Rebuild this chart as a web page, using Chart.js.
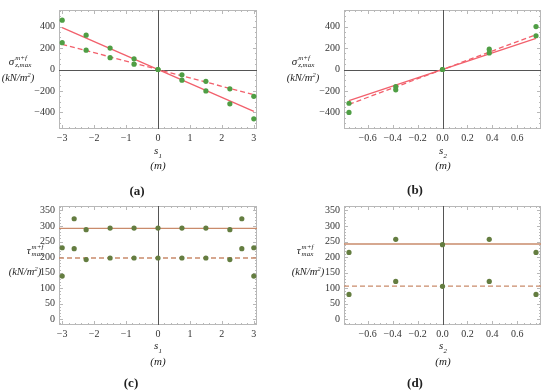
<!DOCTYPE html>
<html>
<head>
<meta charset="utf-8">
<script src="https://cdn.jsdelivr.net/npm/chart.js@4.4.1/dist/chart.umd.min.js"></script>
<style>
  body { margin: 0; background: #fff; }
  #wrap { position: relative; width: 550px; height: 392px; overflow: hidden; font-family: "Liberation Serif", "DejaVu Serif", serif; color: #222; }
  canvas { position: absolute; }
  .lbl { position: absolute; transform: translate(-50%, -50%); white-space: nowrap; font-style: italic; font-size: 11px; }
  .lbl.u { font-size: 10.5px; }
  .cap { position: absolute; transform: translate(-50%, -50%); font-weight: bold; font-size: 13px; }
  .stack { display: inline-block; vertical-align: middle; font-size: 7px; line-height: 7px; text-align: left; margin-left: 1px; }
  .stack span { display: block; }
  sup.sq { font-size: 7px; }
</style>
</head>
<body>
<div id="wrap">
  <canvas id="pa" style="left:0;top:0" width="275" height="145"></canvas>
  <canvas id="pb" style="left:280px;top:0" width="270" height="145"></canvas>
  <canvas id="pc" style="left:0;top:196px" width="275" height="145"></canvas>
  <canvas id="pd" style="left:280px;top:196px" width="270" height="145"></canvas>

  <div class="lbl" style="left:20px;top:62px"><span>σ</span><span class="stack"><span>m+f</span><span>z,max</span></span></div>
  <div class="lbl u" style="left:18px;top:77px">(kN/m<sup class="sq">2</sup>)</div>
  <div class="lbl" style="left:158px;top:152px">s<sub style="font-size:7px">1</sub></div>
  <div class="lbl" style="left:158px;top:165px">(m)</div>
  <div class="cap" style="left:137px;top:191px">(a)</div>

  <div class="lbl" style="left:303px;top:62px"><span>σ</span><span class="stack"><span>m+f</span><span>z,max</span></span></div>
  <div class="lbl u" style="left:303px;top:77px">(kN/m<sup class="sq">2</sup>)</div>
  <div class="lbl" style="left:443px;top:152px">s<sub style="font-size:7px">2</sub></div>
  <div class="lbl" style="left:443px;top:165px">(m)</div>
  <div class="cap" style="left:415px;top:190px">(b)</div>

  <div class="lbl" style="left:35px;top:251px"><span>τ</span><span class="stack"><span>m+f</span><span>max</span></span></div>
  <div class="lbl u" style="left:25px;top:271px">(kN/m<sup class="sq">2</sup>)</div>
  <div class="lbl" style="left:158px;top:347px">s<sub style="font-size:7px">1</sub></div>
  <div class="lbl" style="left:158px;top:361px">(m)</div>
  <div class="cap" style="left:131px;top:383px">(c)</div>

  <div class="lbl" style="left:305px;top:251px"><span>τ</span><span class="stack"><span>m+f</span><span>max</span></span></div>
  <div class="lbl u" style="left:308px;top:271px">(kN/m<sup class="sq">2</sup>)</div>
  <div class="lbl" style="left:443px;top:347px">s<sub style="font-size:7px">2</sub></div>
  <div class="lbl" style="left:443px;top:361px">(m)</div>
  <div class="cap" style="left:415px;top:383px">(d)</div>
</div>
<script>
// data
// (a) normal stress vs s1
const s1 = [-3, -2.25, -1.5, -0.75, 0, 0.75, 1.5, 2.25, 3];
const sigmaA_pts1 = [460, 320, 200, 100, 0, -100, -200, -320, -460];
const sigmaA_pts2 = [250, 180, 110, 50, 0, -50, -110, -180, -250];
const lineA_x = [-3, 3];
const sigmaA_solid = [390, -390];
const sigmaA_dashed = [235, -235];

// (b) normal stress vs s2
const s2 = [-0.75, -0.375, 0, 0.375, 0.75];
const sigmaB_pts1 = [-400, -190, 0, 190, 400];
const sigmaB_pts2 = [-315, -160, 0, 155, 315];
const lineB_x = [-0.75, 0.75];
const sigmaB_solid = [-290, 290];
const sigmaB_dashed = [-325, 325];

// (c) shear stress vs s1
const s1c = [-3, -2.625, -2.25, -1.5, -0.75, 0, 0.75, 1.5, 2.25, 2.625, 3];
const tauC_pts1 = [230, 323, 288, 293, 293, 293, 293, 293, 288, 323, 230];
const tauC_pts2 = [139, 227, 192, 197, 197, 197, 197, 197, 192, 227, 139];
const lineC_x = [-3.1, 3.1];
const tauC_solid = [292, 292];
const tauC_dashed = [197, 197];

// (d) shear stress vs s2
const tauD_pts1 = [215, 257, 240, 257, 215];
const tauD_pts2 = [80, 122, 106, 122, 80];
const lineD_x = [-0.79, 0.79];
const tauD_solid = [242, 242];
const tauD_dashed = [107, 107];

// ticks
const xTicksS1 = [-3, -2, -1, 0, 1, 2, 3];
const xTicksS2 = [-0.6, -0.4, -0.2, 0, 0.2, 0.4, 0.6];
const yTicksSigma = [-400, -200, 0, 200, 400];
const yTicksTau = [0, 50, 100, 150, 200, 250, 300, 350];

const red = "#f2606c";
const green = "#4f9e44";
const brown = "#c98b6b";
const olive = "#647d40";

function pts(xs, ys) {
  return xs.map((x, i) => ({ x: x, y: ys[i] }));
}

function minus(s) {
  return String(s).replace("-", "\u2212");
}

// frame, minor ticks and zero axes, drawn from the chart's scales
const framePlugin = {
  id: "frame",
  beforeDatasetsDraw(chart, args, o) {
    const c = chart.ctx, a = chart.chartArea;
    const xs = chart.scales.x, ys = chart.scales.y;
    c.save();
    c.strokeStyle = "#b8b8b8";
    c.lineWidth = 1;
    c.strokeRect(a.left + 0.5, a.top + 0.5, a.right - a.left - 1, a.bottom - a.top - 1);
    c.beginPath();
    const tick = (v, len, axis) => {
      if (axis === "x") {
        const p = Math.round(xs.getPixelForValue(v)) + 0.5;
        if (p < a.left || p > a.right) return;
        c.moveTo(p, a.bottom); c.lineTo(p, a.bottom - len);
        c.moveTo(p, a.top); c.lineTo(p, a.top + len);
      } else {
        const p = Math.round(ys.getPixelForValue(v)) + 0.5;
        if (p < a.top || p > a.bottom) return;
        c.moveTo(a.left, p); c.lineTo(a.left + len, p);
        c.moveTo(a.right, p); c.lineTo(a.right - len, p);
      }
    };
    for (let v = o.xMinorStart; v <= xs.max + 1e-9; v += o.xMinor) tick(v, 2, "x");
    for (let v = o.yMinorStart; v <= ys.max + 1e-9; v += o.yMinor) tick(v, 2, "y");
    o.xMajor.forEach(v => tick(v, 4, "x"));
    o.yMajor.forEach(v => tick(v, 4, "y"));
    c.stroke();
    // axes through the origin
    c.strokeStyle = "#555";
    c.beginPath();
    const x0 = Math.round(xs.getPixelForValue(0)) + 0.5;
    c.moveTo(x0, a.top); c.lineTo(x0, a.bottom);
    if (o.hAxis) {
      const y0 = Math.round(ys.getPixelForValue(0)) + 0.5;
      c.moveTo(a.left, y0); c.lineTo(a.right, y0);
    }
    c.stroke();
    c.restore();
  }
};

function makePanel(id, p) {
  const tickFont = { family: "'Liberation Serif', 'DejaVu Serif', serif", size: 10 };
  return new Chart(document.getElementById(id), {
    type: "scatter",
    data: {
      datasets: [
        { type: "line", data: pts(p.lx, p.solid), borderColor: p.lineColor, borderWidth: 1.3, pointRadius: 0, order: 3 },
        { type: "line", data: pts(p.lx, p.dashed), borderColor: p.lineColor, borderWidth: 1.3, borderDash: [5, 3], pointRadius: 0, order: 2 },
        { data: pts(p.xs, p.p1), backgroundColor: p.ptColor, borderWidth: 0, pointRadius: 2.6, order: 1 },
        { data: pts(p.xs, p.p2), backgroundColor: p.ptColor, borderWidth: 0, pointRadius: 2.6, order: 1 }
      ]
    },
    options: {
      responsive: false,
      animation: false,
      events: [],
      layout: { autoPadding: false, padding: { left: 0, right: p.padR, top: p.padT, bottom: 0 } },
      plugins: {
        legend: { display: false },
        tooltip: { enabled: false },
        frame: p.frame
      },
      scales: {
        x: {
          type: "linear",
          min: p.xMin, max: p.xMax,
          grid: { display: false, drawTicks: false },
          border: { display: false },
          afterBuildTicks: s => { s.ticks = p.xTicks.map(v => ({ value: v })); },
          afterFit: s => { s.height = p.xH; },
          ticks: { font: tickFont, color: "#333", padding: 3, maxRotation: 0, autoSkip: false,
            callback: v => minus(p.xDec ? Number(v).toFixed(1) : v) }
        },
        y: {
          type: "linear",
          min: p.yMin, max: p.yMax,
          grid: { display: false, drawTicks: false },
          border: { display: false },
          afterBuildTicks: s => { s.ticks = p.yTicks.map(v => ({ value: v })); },
          afterFit: s => { s.width = p.yW; },
          ticks: { font: tickFont, color: "#333", padding: 4, autoSkip: false, callback: v => minus(v) }
        }
      }
    },
    plugins: [framePlugin]
  });
}

makePanel("pa", {
  xs: s1, p1: sigmaA_pts1, p2: sigmaA_pts2, lx: lineA_x, solid: sigmaA_solid, dashed: sigmaA_dashed,
  lineColor: red, ptColor: green, xMin: -3.1, xMax: 3.1, yMin: -555, yMax: 555,
  xTicks: xTicksS1, yTicks: yTicksSigma, padR: 18, padT: 7, xH: 16, yW: 59,
  frame: { xMinor: 0.2, xMinorStart: -3, yMinor: 50, yMinorStart: -550, xMajor: xTicksS1, yMajor: yTicksSigma, hAxis: true }
});
makePanel("pb", {
  xs: s2, p1: sigmaB_pts1, p2: sigmaB_pts2, lx: lineB_x, solid: sigmaB_solid, dashed: sigmaB_dashed,
  lineColor: red, ptColor: green, xMin: -0.79, xMax: 0.79, yMin: -555, yMax: 555, xDec: true,
  xTicks: xTicksS2, yTicks: yTicksSigma, padR: 9, padT: 7, xH: 16, yW: 64,
  frame: { xMinor: 0.05, xMinorStart: -0.75, yMinor: 50, yMinorStart: -550, xMajor: xTicksS2, yMajor: yTicksSigma, hAxis: true }
});
makePanel("pc", {
  xs: s1c, p1: tauC_pts1, p2: tauC_pts2, lx: lineC_x, solid: tauC_solid, dashed: tauC_dashed,
  lineColor: brown, ptColor: olive, xMin: -3.1, xMax: 3.1, yMin: -18, yMax: 364,
  xTicks: xTicksS1, yTicks: yTicksTau, padR: 18, padT: 8, xH: 16, yW: 59,
  frame: { xMinor: 0.2, xMinorStart: -3, yMinor: 10, yMinorStart: -10, xMajor: xTicksS1, yMajor: yTicksTau, hAxis: false }
});
makePanel("pd", {
  xs: s2, p1: tauD_pts1, p2: tauD_pts2, lx: lineD_x, solid: tauD_solid, dashed: tauD_dashed,
  lineColor: brown, ptColor: olive, xMin: -0.79, xMax: 0.79, yMin: -18, yMax: 364, xDec: true,
  xTicks: xTicksS2, yTicks: yTicksTau, padR: 9, padT: 8, xH: 16, yW: 64,
  frame: { xMinor: 0.05, xMinorStart: -0.75, yMinor: 10, yMinorStart: -10, xMajor: xTicksS2, yMajor: yTicksTau, hAxis: false }
});
</script>
</body>
</html>
